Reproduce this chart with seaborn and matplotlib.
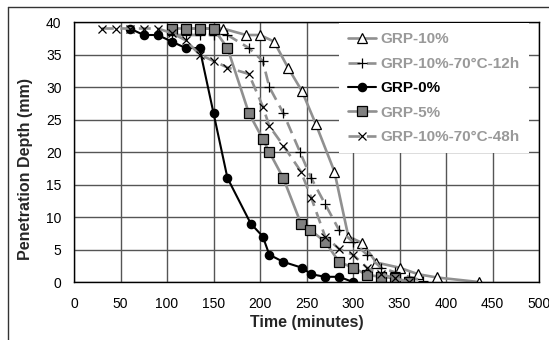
import matplotlib
matplotlib.use("Agg")
import matplotlib.pyplot as plt
from matplotlib.lines import Line2D
import seaborn as sns
import pandas as pd

# ---- data ----
t_10 = [120, 135, 150, 160, 185, 200, 215, 230, 245, 260, 280, 295, 310, 325, 350, 370, 390, 435]
d_10 = [39, 39, 39, 39, 38, 38, 37, 33, 29.4, 24.3, 17, 7, 6, 3, 2.2, 1.2, 0.7, 0]

t_12h = [105, 120, 135, 150, 165, 188, 203, 210, 225, 243, 255, 270, 285, 300, 315, 330, 345, 360, 375]
d_12h = [38, 38, 38, 38, 38, 36, 34, 30, 26, 20, 16, 12, 8, 6.2, 4.2, 2.2, 1.5, 0.8, 0.2]

t_0 = [60, 75, 90, 105, 120, 135, 150, 165, 190, 203, 210, 225, 245, 255, 270, 285, 300]
d_0 = [39, 38, 38, 37, 36, 36, 26, 16, 9, 7, 4.2, 3.1, 2.2, 1.2, 0.8, 0.8, 0]

t_5 = [105, 120, 135, 150, 165, 188, 203, 210, 225, 244, 254, 270, 285, 300, 315, 330, 345, 360]
d_5 = [39, 39, 39, 39, 36, 26, 22, 20, 16, 9, 8, 6.2, 3.1, 2.2, 1.1, 0.8, 0.6, 0]

t_48h = [30, 45, 60, 75, 90, 105, 120, 135, 150, 165, 188, 203, 210, 225, 244, 255, 270, 285, 300, 315, 330, 345, 360]
d_48h = [39, 39, 39, 39, 39, 38.3, 37.2, 35, 34, 33, 32, 27, 24, 21, 17, 13, 7, 5.1, 4.2, 2.2, 1.2, 0.6, 0]

labels = ["GRP-10%", "GRP-10%-70\u00b0C-12h", "GRP-0%", "GRP-5%", "GRP-10%-70\u00b0C-48h"]
x_ticks = [0, 50, 100, 150, 200, 250, 300, 350, 400, 450, 500]
y_ticks = [0, 5, 10, 15, 20, 25, 30, 35, 40]

sns.set_style("white")
plt.rcParams["font.family"] = ["Liberation Sans", "DejaVu Sans"]

fig = plt.figure(figsize=(5.49, 3.40), dpi=100)
ax = fig.add_axes([74/549, 1-282/340, 465/549, 260/340])

gray = "#909090"
styles = [
    dict(color=gray, lw=1.9, ls="-", marker="^", ms=7.5, mfc="white", mec="black", mew=0.9),
    dict(color=gray, lw=1.9, ls=(0, (4.5, 2.5)), marker="+", ms=7, mfc="black", mec="black", mew=0.9),
    dict(color="black", lw=1.5, ls="-", marker="o", ms=6, mfc="black", mec="black", mew=0.9),
    dict(color=gray, lw=1.9, ls="-", marker="s", ms=6.5, mfc="#808080", mec="black", mew=0.9),
    dict(color=gray, lw=1.9, ls=(0, (4.5, 2.5)), marker="x", ms=6, mfc="black", mec="black", mew=0.9),
]
series = [(t_10, d_10), (t_12h, d_12h), (t_0, d_0), (t_5, d_5), (t_48h, d_48h)]

for (tx, dy), lab, st in zip(series, labels, styles):
    df = pd.DataFrame({"t": tx, "d": dy})
    sns.lineplot(data=df, x="t", y="d", ax=ax, label=lab, estimator=None, sort=False,
                 color=st["color"], linewidth=st["lw"], linestyle=st["ls"],
                 marker=st["marker"], markersize=st["ms"], markerfacecolor=st["mfc"],
                 markeredgecolor=st["mec"], markeredgewidth=st["mew"])

ax.set_xlim(0, 500)
ax.set_ylim(0, 40)
ax.set_xticks(x_ticks)
ax.set_yticks(y_ticks)
ax.grid(True, color="#555555", lw=1.0)
ax.set_axisbelow(True)
for s in ax.spines.values():
    s.set_color("black")
    s.set_linewidth(1.0)
ax.tick_params(axis="both", direction="out", length=5, width=1, color="black",
               labelsize=10, labelcolor="black", pad=4)
ax.tick_params(axis="x", pad=6)

ax.set_xlabel("Time (minutes)", fontsize=11.5, fontweight="bold", labelpad=3)
ax.set_ylabel("Penetration Depth (mm)", fontsize=11.5, fontweight="bold", labelpad=8)
ax.yaxis.set_label_coords(-0.088, 0.435)

leg = ax.legend(loc="upper left", bbox_to_anchor=(0.57, 0.995), frameon=True,
                fontsize=11, handlelength=1.8, handletextpad=0.3, labelspacing=0.68,
                borderpad=0.6, borderaxespad=0)
leg.get_frame().set_facecolor("white")
leg.get_frame().set_edgecolor("none")
leg.get_frame().set_alpha(1)
leg.get_frame().set_boxstyle("square", pad=0)
text_colors = ["#999999", "#999999", "black", "#999999", "#999999"]
for txt, c in zip(leg.get_texts(), text_colors):
    txt.set_color(c)
    txt.set_fontweight("bold")

# outer chart border (cropped at right and bottom)
fig.add_artist(Line2D([8/549, 1], [1-7/340, 1-7/340], color="#333333", lw=1.0, transform=fig.transFigure))
fig.add_artist(Line2D([8/549, 8/549], [0, 1-7/340], color="#333333", lw=1.0, transform=fig.transFigure))

fig.savefig("out.png", dpi=100, facecolor="white")
